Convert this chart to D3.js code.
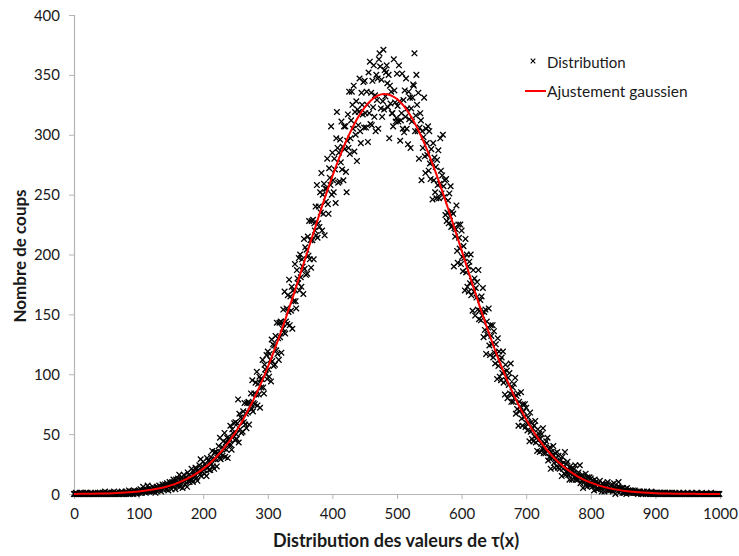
<!DOCTYPE html>
<html><head><meta charset="utf-8">
<script src="https://cdn.jsdelivr.net/npm/d3@7"></script>
<style>body{margin:0;background:#fff}svg{display:block}text{font-family:Lato,"Open Sans",sans-serif;fill:#1a1a1a}</style>
</head><body><svg id="c" width="739" height="556"></svg>
<script>
// Counts per value of tau(x), index = x within each block of 100
const counts000=[0,0,0,1,0,0,0,0,0,1, 0,0,1,0,0,0,0,0,1,0, 0,1,0,0,0,0,1,0,0,0, 0,0,0,1,0,0,0,1,0,0, 1,0,0,0,0,1,0,0,2,0, 0,1,0,0,1,0,0,0,1,0, 1,0,2,0,0,1,0,1,0,0, 0,1,1,0,2,0,1,0,0,1, 2,0,1,1,0,3,1,0,1,2, 1,2,0,3,1,2,1,0,2,1];
const counts100=[2,3,1,4,2,1,3,6,2,3, 3,1,4,2,7,3,2,5,3,2, 4,3,6,2,5,4,1,3,6,4, 5,3,7,4,6,2,5,8,4,6, 5,8,6,4,9,7,3,6,10,7, 8,4,10,7,12,6,9,4,12,8, 7,13,9,16,6,12,9,14,5,12, 16,11,8,14,12,6,18,11,16,10, 12,15,21,12,10,19,17,15,22,13, 21,11,20,18,24,16,29,15,19,23];
const counts200=[27,20,17,25,23,15,30,22,28,20, 27,20,31,25,36,23,29,21,35,29, 35,23,34,32,40,30,47,29,34,39, 32,44,38,51,31,43,37,47,30,46, 41,46,57,41,37,54,51,48,59,45, 60,50,46,59,79,43,67,54,64,51, 63,52,69,60,76,58,67,55,76,68, 77,58,76,73,84,71,95,69,76,84, 75,93,83,102,74,92,83,98,72,96, 89,96,112,89,84,108,104,100,116,96];
const counts300=[119,104,98,117,112,94,129,111,125,107, 124,108,132,120,143,117,130,112,143,131, 144,118,143,138,154,135,169,134,144,155, 142,166,152,179,141,165,153,173,138,170, 161,171,192,161,155,187,180,176,197,170, 200,181,173,196,190,167,213,188,206,183, 204,184,215,199,228,196,212,189,228,212, 229,196,226,220,240,216,258,214,226,240, 223,252,235,268,220,250,234,259,216,255, 244,255,280,242,234,272,264,258,307,250];
const counts400=[285,262,252,280,271,243,297,319,289,260, 285,261,296,277,311,271,290,262,307,288, 307,269,252,295,317,289,336,284,297,312, 336,325,305,341,286,319,300,328,278,321, 308,319,347,303,293,335,325,317,344,306, 345,318,306,336,325,294,352,318,361,309, 335,308,345,323,358,315,333,303,350,329, 347,305,363,368,357,322,346,315,328,371, 321,354,332,352,358,343,323,350,297,341, 326,336,318,318,307,363,337,327,311,314];
const counts500=[351,324,311,358,328,295,312,318,351,305, 329,302,337,315,347,305,322,292,336,313, 331,289,322,311,331,342,341,368,303,316, 350,325,303,335,280,306,318,312,262,303, 289,298,331,282,268,305,293,283,307,270, 303,276,263,288,277,246,293,262,281,252, 273,247,279,258,287,247,259,297,270,251, 266,300,257,248,262,233,263,228,235,245, 226,251,232,257,223,236,224,234,190,222, 215,221,241,203,193,225,214,205,225,192];
const counts600=[220,198,186,207,197,170,213,185,200,173, 190,169,194,176,200,166,178,153,187,169, 180,149,172,164,177,154,187,146,153,162, 145,165,149,172,131,152,137,154,117,144, 133,139,155,124,116,141,132,125,141,114, 136,118,109,125,117,96,130,107,119,98, 112,95,114,101,119,93,102,83,108,95, 103,80,97,91,101,84,109,77,83,89, 77,92,80,97,67,82,71,84,57,77, 69,73,85,63,57,75,69,64,75,56];
const counts700=[72,59,53,64,59,44,68,52,60,46, 55,44,57,48,61,43,49,36,54,45, 50,35,46,42,50,38,55,34,38,42, 34,44,36,47,28,38,31,39,21,35, 30,33,40,26,22,34,30,27,35,22, 32,25,21,28,25,15,31,21,26,17, 35,16,25,19,27,16,20,12,23,17, 21,12,19,17,21,14,24,12,14,17, 12,18,14,24,9,15,11,16,5,13, 10,12,17,8,6,14,11,9,14,7];
const counts800=[13,8,6,11,9,3,12,7,10,4, 8,4,9,6,11,5,7,2,9,6, 8,2,7,6,8,4,10,3,4,6, 3,7,4,8,2,5,9,6,0,5, 3,4,6,10,1,5,4,3,5,1, 5,2,1,4,3,0,5,2,3,1, 2,1,3,2,1,3,1,2,3,1, 1,2,1,0,2,1,2,1,0,1, 1,0,2,1,1,0,1,2,0,1, 1,0,1,0,2,1,0,1,0,1];
const counts900=[0,1,0,1,0,0,1,0,1,0, 1,0,0,1,0,1,0,0,0,1, 0,0,1,0,0,0,1,0,0,0, 0,1,0,0,0,0,0,1,0,0, 0,0,0,1,0,0,0,0,0,0, 1,0,0,0,0,0,1,0,0,0, 0,0,0,0,1,0,0,0,0,0, 0,0,1,0,0,0,0,0,0,0, 0,0,0,0,0,0,1,0,0,0, 0,0,0,0,0,0,0,0,0,0];

// Gaussian fit, read every 20 units
const fitX=[0,20,40,60,80,100,120,140,160,180,200,220,240,260,280,300,320,340,360,380,400,420,440,460,480,500,520,540,560,580,600,620,640,660,680,700,720,740,760,780,800,820,840,860,880,900,920,940,960,980,1000];
const fitY=[0.1,0.2,0.37,0.67,1.2,2.07,3.47,5.69,9.05,14.0,21.0,30.7,43.7,60.4,81.1,106.0,134.7,166.5,200.0,233.7,265.4,293.2,314.9,328.9,334.0,329.8,316.7,295.7,268.4,236.9,203.4,169.8,137.8,108.7,83.4,62.3,45.2,31.9,21.9,14.6,9.46,5.97,3.66,2.18,1.27,0.71,0.39,0.21,0.11,0.05,0.03];

const xTicks=[0,100,200,300,400,500,600,700,800,900,1000];
const yTicks=[0,50,100,150,200,250,300,350,400];
const seriesNames=["Distribution","Ajustement gaussien"];
const xTitle="Distribution des valeurs de τ(x)";
const yTitle="Nombre de coups";

const counts=[].concat(counts000,counts100,counts200,counts300,counts400,counts500,counts600,counts700,counts800,counts900);
const points=counts.map((v,i)=>({x:i,y:v}));
const fit=fitX.map((x,i)=>({x:x,y:fitY[i]}));

const svg=d3.select("#c");
const x=d3.scaleLinear().domain([0,1000]).range([74,720]);
const y=d3.scaleLinear().domain([0,400]).range([494,15]);
const axisColor="#b5b5b5";

// Y axis
const ya=svg.append("g").attr("transform","translate(74,0)")
  .call(d3.axisLeft(y).tickValues(yTicks).tickFormat(d3.format("d")).tickSize(5).tickPadding(9));
ya.select(".domain").attr("stroke",axisColor);
ya.selectAll(".tick line").attr("stroke",axisColor);
ya.selectAll("text").style("font-size","15px").attr("fill","#1a1a1a").attr("dy","0.34em");

// X axis
const xa=svg.append("g").attr("transform","translate(0,494)")
  .call(d3.axisBottom(x).tickValues(xTicks).tickFormat(d3.format("d")).tickSize(5).tickPadding(9));
xa.select(".domain").attr("stroke",axisColor);
xa.selectAll(".tick line").attr("stroke",axisColor);
xa.selectAll("text").style("font-size","15px").attr("fill","#1a1a1a");
svg.selectAll(".domain").attr("stroke-width",1.2);

// Scatter (× markers)
const s=2.8;
svg.append("g").selectAll("path").data(points).join("path")
  .attr("d",d=>{const cx=x(d.x),cy=y(d.y);return `M${cx-s},${cy-s}L${cx+s},${cy+s}M${cx-s},${cy+s}L${cx+s},${cy-s}`;})
  .attr("stroke","#000").attr("stroke-width",1.3).attr("fill","none");

// Fit line
svg.append("path").datum(fit)
  .attr("d",d3.line().x(d=>x(d.x)).y(d=>y(d.y)).curve(d3.curveMonotoneX))
  .attr("fill","none").attr("stroke","#ff0000").attr("stroke-width",2);

// Legend
const lg=svg.append("g");
lg.append("path").attr("d",`M${533-2.3},${61-2.3}L${533+2.3},${61+2.3}M${533-2.3},${61+2.3}L${533+2.3},${61-2.3}`)
  .attr("stroke","#000").attr("stroke-width",1.1);
lg.append("text").attr("x",547).attr("y",63).attr("dy","0.35em").style("font-size","15px").text(seriesNames[0]);
lg.append("line").attr("x1",525).attr("x2",546).attr("y1",91).attr("y2",91).attr("stroke","#ff0000").attr("stroke-width",2);
lg.append("text").attr("x",547).attr("y",92).attr("dy","0.35em").style("font-size","15.5px").text(seriesNames[1]);

// Axis titles
svg.append("text").attr("x",396).attr("y",547).attr("text-anchor","middle")
  .style("font-size","18px").style("font-weight","bold").text(xTitle);
svg.append("text").attr("transform","translate(26,256) rotate(-90)").attr("text-anchor","middle")
  .style("font-size","17px").style("font-weight","bold").text(yTitle);
</script></body></html>
